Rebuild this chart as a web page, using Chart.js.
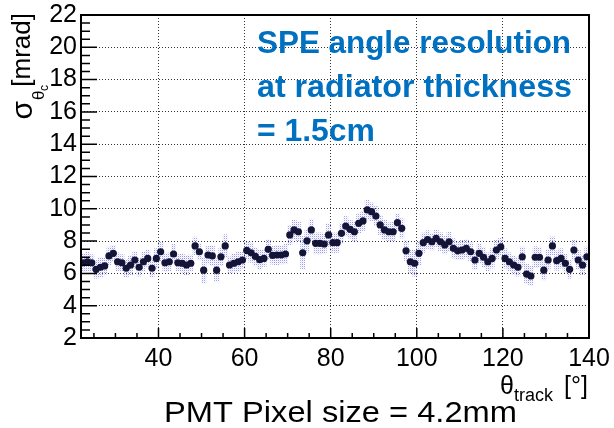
<!DOCTYPE html>
<html>
<head>
<meta charset="UTF-8">
<title>SPE angle resolution</title>
<script src="https://cdn.jsdelivr.net/npm/chart.js@4.4.1/dist/chart.umd.min.js"></script>
<style>
  html, body { margin: 0; padding: 0; background: #fff; }
  #wrap { width: 614px; height: 428px; }
</style>
</head>
<body>
<div id="wrap"><canvas id="resChart" width="614" height="428"></canvas></div>
<script>
// bin centres of theta_track [deg]
const thetaTrack = [
  22.5, 23.5, 24.5, 25.5, 26.5, 27.5, 28.5, 29.5, 30.5, 31.5,
  32.5, 33.5, 34.5, 35.5, 36.5, 37.5, 38.5, 39.5, 40.5, 41.5,
  42.5, 43.5, 44.5, 45.5, 46.5, 47.5, 48.5, 49.5, 50.5, 51.5,
  52.5, 53.5, 54.5, 55.5, 56.5, 57.5, 58.5, 59.5, 60.5, 61.5,
  62.5, 63.5, 64.5, 65.5, 66.5, 67.5, 68.5, 69.5, 70.5, 71.5,
  72.5, 73.5, 74.5, 75.5, 76.5, 77.5, 78.5, 79.5, 80.5, 81.5,
  82.5, 83.5, 84.5, 85.5, 86.5, 87.5, 88.5, 89.5, 90.5, 91.5,
  92.5, 93.5, 94.5, 95.5, 96.5, 97.5, 98.5, 99.5, 100.5, 101.5,
  102.5, 103.5, 104.5, 105.5, 106.5, 107.5, 108.5, 109.5, 110.5, 111.5,
  112.5, 113.5, 114.5, 115.5, 116.5, 117.5, 118.5, 119.5, 120.5, 121.5,
  122.5, 123.5, 124.5, 125.5, 126.5, 127.5, 128.5, 129.5, 130.5, 131.5,
  132.5, 133.5, 134.5, 135.5, 136.5, 137.5, 138.5, 139.5
];
// sigma_theta_c [mrad]
const sigmaTheta = [
  6.66, 6.72, 6.66, 6.25, 6.38, 6.46, 7.08, 7.24, 6.72, 6.66,
  6.32, 6.52, 6.83, 6.38, 6.72, 6.93, 6.32, 6.93, 7.34, 6.66,
  6.72, 7.20, 6.66, 6.63, 6.52, 6.63, 7.70, 7.34, 6.20, 7.14,
  7.08, 6.20, 7.03, 7.70, 6.52, 6.63, 6.72, 6.83, 7.42, 7.28,
  7.05, 6.85, 6.93, 7.49, 7.12, 7.14, 7.14, 7.20, 8.38, 8.69,
  8.58, 7.28, 8.02, 8.69, 7.86, 7.86, 7.82, 8.38, 7.90, 7.90,
  8.48, 8.93, 8.73, 8.58, 9.10, 9.25, 9.93, 9.82, 9.55, 9.00,
  8.69, 8.58, 8.58, 9.14, 8.79, 7.40, 6.72, 6.63, 7.24, 7.90,
  8.10, 7.96, 8.17, 7.96, 7.76, 7.96, 7.55, 7.40, 7.45, 7.55,
  7.34, 6.83, 7.24, 7.00, 6.72, 6.93, 7.45, 7.65, 6.93, 6.72,
  6.52, 6.38, 7.03, 5.96, 5.84, 7.00, 7.00, 6.20, 6.83, 7.70,
  6.79, 6.93, 6.63, 6.25, 7.45, 6.83, 6.52, 7.03
];
// error on sigma [mrad]
const sigmaErr = [
  0.55, 0.60, 0.50, 0.55, 0.60, 0.50, 0.55, 0.50, 0.55, 0.50,
  0.55, 0.60, 0.50, 0.55, 0.60, 0.50, 0.55, 0.60, 0.60, 0.55,
  0.55, 0.60, 0.50, 0.55, 0.60, 0.50, 0.55, 0.50, 0.80, 0.55,
  0.60, 0.70, 0.55, 0.70, 0.50, 0.55, 0.60, 0.50, 0.55, 0.60,
  0.55, 0.60, 0.50, 0.60, 0.55, 0.60, 0.55, 0.60, 0.60, 0.60,
  0.60, 1.00, 0.70, 0.65, 0.65, 0.65, 0.60, 0.70, 0.60, 0.60,
  0.60, 0.60, 0.55, 0.60, 0.60, 0.60, 0.60, 0.55, 0.60, 0.60,
  0.60, 0.55, 0.60, 0.55, 0.60, 0.60, 0.70, 0.80, 0.75, 0.60,
  0.55, 0.50, 0.50, 0.55, 0.55, 0.60, 0.60, 0.55, 0.60, 0.55,
  0.55, 0.60, 0.60, 0.60, 0.55, 0.60, 0.60, 0.55, 0.60, 0.55,
  0.55, 0.55, 0.60, 0.60, 0.60, 0.65, 0.60, 0.60, 0.60, 0.55,
  0.60, 0.60, 0.55, 0.55, 0.60, 0.60, 0.60, 0.60
];
const xTickLabels = [40, 60, 80, 100, 120, 140];
const yTickLabels = [2, 4, 6, 8, 10, 12, 14, 16, 18, 20, 22];
const titleLines = ['SPE angle resolution', 'at radiator thickness', '= 1.5cm'];
const caption = 'PMT Pixel size = 4.2mm';

const FONT = 'Liberation Sans, Arial, sans-serif';

// ROOT style hatch for the error boxes
function makeHatch() {
  const c = document.createElement('canvas');
  c.width = 2; c.height = 2;
  const g = c.getContext('2d');
  g.fillStyle = 'rgba(125, 125, 245, 0.75)';
  g.fillRect(0, 0, 1, 1);
  g.fillStyle = 'rgba(170, 170, 250, 0.25)';
  g.fillRect(1, 1, 1, 1);
  return document.getElementById('resChart').getContext('2d').createPattern(c, 'repeat');
}

// draw text stretched/squeezed to a given width
function fitText(ctx, str, x, base, width) {
  const w = ctx.measureText(str).width;
  ctx.save();
  ctx.translate(x, base);
  ctx.scale(width / w, 1);
  ctx.fillText(str, 0, 0);
  ctx.restore();
}

const rootFrame = {
  id: 'rootFrame',
  afterDatasetsDraw(chart) {
    const { ctx, chartArea: a, scales: { x, y } } = chart;
    ctx.save();
    ctx.strokeStyle = '#000';
    ctx.lineWidth = 1.5;
    ctx.beginPath();
    for (let v = 25; v < 140; v += 5) {
      const px = x.getPixelForValue(v);
      const len = xTickLabels.includes(v) ? 10 : 5;
      ctx.moveTo(px, a.bottom);
      ctx.lineTo(px, a.bottom - len);
    }
    for (let v = 2.5; v < 22; v += 0.5) {
      const py = y.getPixelForValue(v);
      const len = yTickLabels.includes(v) ? 16 : 9;
      ctx.moveTo(a.left, py);
      ctx.lineTo(a.left + len, py);
    }
    ctx.stroke();
    ctx.lineWidth = 2;
    ctx.strokeRect(a.left, a.top, a.right - a.left, a.bottom - a.top);

    // y title: sigma_{theta_c} [mrad]
    ctx.fillStyle = '#000';
    ctx.save();
    ctx.translate(32, 0);
    ctx.rotate(-Math.PI / 2);
    ctx.textBaseline = 'alphabetic';
    ctx.font = '30px ' + FONT;
    ctx.textAlign = 'right';
    ctx.fillText('σ', -101, 0);
    ctx.textAlign = 'left';
    ctx.font = '17px ' + FONT;
    ctx.fillText('θ', -100, 12);
    ctx.font = '12px ' + FONT;
    ctx.fillText('c', -91, 16);
    ctx.font = '26px ' + FONT;
    ctx.textAlign = 'right';
    ctx.fillText('[mrad]', -13, -2);
    ctx.restore();

    // x title: theta_track [deg]
    ctx.textAlign = 'left';
    ctx.font = '25px ' + FONT;
    ctx.fillText('θ', 500, 394);
    ctx.font = '18px ' + FONT;
    ctx.fillText('track', 514, 401);
    ctx.font = '25px ' + FONT;
    ctx.textAlign = 'right';
    ctx.fillText('[°]', 588, 394);

    // blue annotation
    ctx.textAlign = 'left';
    ctx.fillStyle = '#0070c0';
    ctx.font = 'bold 31px ' + FONT;
    fitText(ctx, titleLines[0], 257, 53, 314);
    fitText(ctx, titleLines[1], 257, 97, 315);
    fitText(ctx, titleLines[2], 257, 141, 118);

    // caption under the plot
    ctx.fillStyle = '#000';
    ctx.font = '29px ' + FONT;
    fitText(ctx, caption, 164, 422, 353);
    ctx.restore();
  }
};

const hatch = makeHatch();

new Chart(document.getElementById('resChart'), {
  type: 'bar',
  data: {
    datasets: [
      {
        type: 'scatter',
        data: thetaTrack.map((t, i) => ({ x: t, y: sigmaTheta[i] })),
        pointRadius: 3.6,
        pointBackgroundColor: '#141436',
        pointBorderWidth: 0,
        order: 0
      },
      {
        type: 'bar',
        data: thetaTrack.map((t, i) => ({ x: t, y: [sigmaTheta[i] - sigmaErr[i], sigmaTheta[i] + sigmaErr[i]] })),
        backgroundColor: hatch,
        borderWidth: 0,
        barPercentage: 1,
        categoryPercentage: 1,
        order: 1
      }
    ]
  },
  options: {
    responsive: false,
    animation: false,
    devicePixelRatio: 1,
    layout: { padding: { left: 0, top: 15, right: 25, bottom: 0 } },
    plugins: { legend: { display: false }, tooltip: { enabled: false } },
    scales: {
      x: {
        type: 'linear',
        min: 22,
        max: 140,
        offset: false,
        afterBuildTicks: s => { s.ticks = xTickLabels.map(v => ({ value: v })); },
        afterFit: s => { s.height = 90; s.paddingLeft = 0; s.paddingRight = 0; },
        grid: { color: '#333', lineWidth: 1, drawTicks: false, offset: false },
        border: { display: false, dash: [1, 2] },
        ticks: { font: { family: FONT, size: 25 }, color: '#000', padding: 6, maxRotation: 0, autoSkip: false }
      },
      y: {
        type: 'linear',
        min: 2,
        max: 22,
        afterBuildTicks: s => { s.ticks = yTickLabels.map(v => ({ value: v })); },
        afterFit: s => { s.width = 81; s.paddingTop = 0; s.paddingBottom = 0; },
        grid: { color: '#333', lineWidth: 1, drawTicks: false },
        border: { display: false, dash: [1, 2] },
        ticks: { font: { family: FONT, size: 25 }, color: '#000', padding: 4, autoSkip: false }
      }
    }
  },
  plugins: [rootFrame]
});
</script>
</body>
</html>
